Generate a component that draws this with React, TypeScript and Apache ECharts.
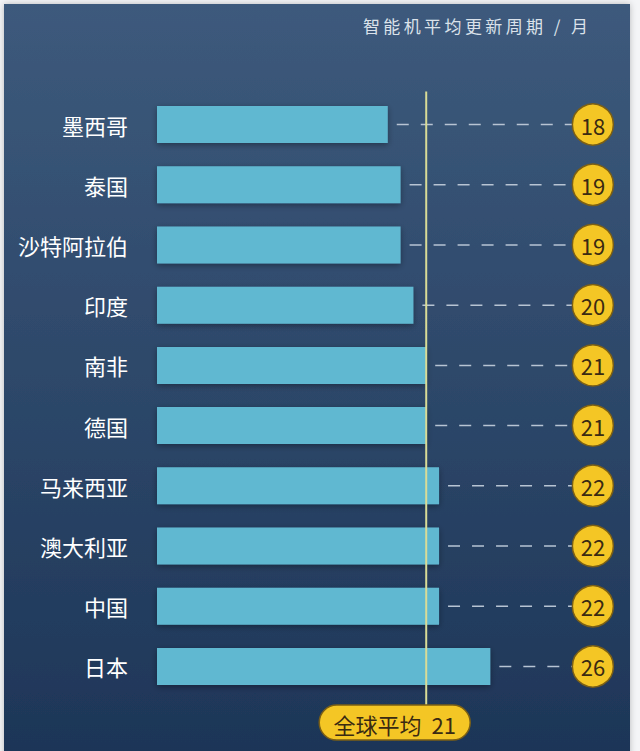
import React, { useEffect, useRef } from "react";
import * as echarts from "echarts";

const CATEGORIES = ["墨西哥", "泰国", "沙特阿拉伯", "印度", "南非", "德国", "马来西亚", "澳大利亚", "中国", "日本"];
const VALUES = [18, 19, 19, 20, 21, 21, 22, 22, 22, 26];
const AVERAGE = 21;
const AVERAGE_LABEL = "全球平均";
const TITLE = "智能机平均更新周期 / 月";
const X_MAX = 36;
const BADGE_X = 34;

const FONT = "'Noto Sans CJK SC', 'Noto Sans', sans-serif";

export default function App() {
  const ref = useRef<HTMLDivElement>(null);
  useEffect(() => {
    if (!ref.current) return;
    const chart = echarts.init(ref.current, null, { renderer: "svg" });
    const option: any = {
      animation: false,
      backgroundColor: "#f4f5f7",
      textStyle: { fontFamily: FONT },
      graphic: [
        {
          type: "rect",
          z: -10,
          silent: true,
          shape: { x: 4, y: 4, width: 626, height: 760 },
          style: {
            fill: new echarts.graphic.LinearGradient(0, 0, 0, 1, [
              { offset: 0, color: "#3d5a7c" },
              { offset: 1, color: "#1d3557" },
            ]),
            shadowBlur: 6,
            shadowColor: "rgba(0,0,0,0.25)",
          },
        },
        {
          type: "text",
          right: 52,
          top: 17,
          style: {
            text: TITLE.split("").join("\u2009"),
            fill: "#dbe2ea",
            font: `17px ${FONT}`,
          },
        },
      ],
      grid: { left: 157, top: 94.4, width: 12.82 * X_MAX, height: 602.2, containLabel: false },
      xAxis: {
        type: "value",
        min: 0,
        max: X_MAX,
        show: false,
      },
      yAxis: {
        type: "category",
        inverse: true,
        data: CATEGORIES,
        axisLine: { show: false },
        axisTick: { show: false },
        splitLine: { show: false },
        axisLabel: { color: "#ffffff", fontSize: 22, margin: 29, fontFamily: FONT },
      },
      series: [
        {
          type: "bar",
          data: VALUES,
          barWidth: 37,
          z: 2,
          itemStyle: {
            color: "#61b8d1",
            shadowBlur: 6,
            shadowOffsetY: 2,
            shadowColor: "rgba(0,0,0,0.35)",
          },
        },
        {
          type: "custom",
          z: 3,
          data: VALUES.map((v, i) => [v, i]),
          encode: { x: 0, y: 1 },
          renderItem: (params: any, api: any) => {
            const v = api.value(0);
            const i = api.value(1);
            const s = api.coord([v, i]);
            const e = api.coord([BADGE_X, i]);
            return {
              type: "line",
              shape: { x1: s[0] + 9, y1: s[1], x2: e[0] - 20, y2: e[1] },
              style: { stroke: "#b7c4d3", lineWidth: 1.5, lineDash: [12, 12] },
            };
          },
        },
        {
          type: "scatter",
          z: 4,
          data: VALUES.map((v, i) => [BADGE_X, i, v]),
          symbol: "circle",
          symbolSize: 41,
          itemStyle: { color: "#f4c625", borderColor: "#7b5f15", borderWidth: 1.5, opacity: 1 },
          label: {
            show: true,
            position: "inside",
            formatter: (p: any) => String(p.value[2]),
            color: "#3a2a12",
            fontSize: 22,
            fontFamily: FONT,
          },
        },
        {
          type: "custom",
          z: 6,
          clip: false,
          data: [[AVERAGE, 0]],
          encode: { x: 0, y: 1 },
          renderItem: (params: any, api: any) => {
            const cs = params.coordSys;
            const p = api.coord([api.value(0), 0]);
            const x = p[0];
            const pillTop = cs.y + cs.height + 8.5;
            const pillH = 35;
            const pillL = x - 107;
            const pillW = 151;
            return {
              type: "group",
              children: [
                {
                  type: "line",
                  shape: { x1: x, y1: cs.y - 3, x2: x, y2: pillTop },
                  style: { stroke: "#d9dc97", lineWidth: 2 },
                },
                {
                  type: "rect",
                  shape: { x: pillL, y: pillTop, width: pillW, height: pillH, r: pillH / 2 },
                  style: { fill: "#f4c625", stroke: "#7b5f15", lineWidth: 1.5 },
                },
                {
                  type: "text",
                  style: {
                    text: `${AVERAGE_LABEL}  ${api.value(0)}`,
                    x: pillL + pillW / 2,
                    y: pillTop + pillH / 2 + 1,
                    align: "center",
                    verticalAlign: "middle",
                    fill: "#3a2a12",
                    font: `22px ${FONT}`,
                  },
                },
              ],
            };
          },
        },
      ],
    };
    chart.setOption(option);
    return () => chart.dispose();
  }, []);
  return (
    <div
      ref={ref}
      style={{ position: "absolute", left: 0, top: 0, width: 640, height: 751 }}
    />
  );
}
